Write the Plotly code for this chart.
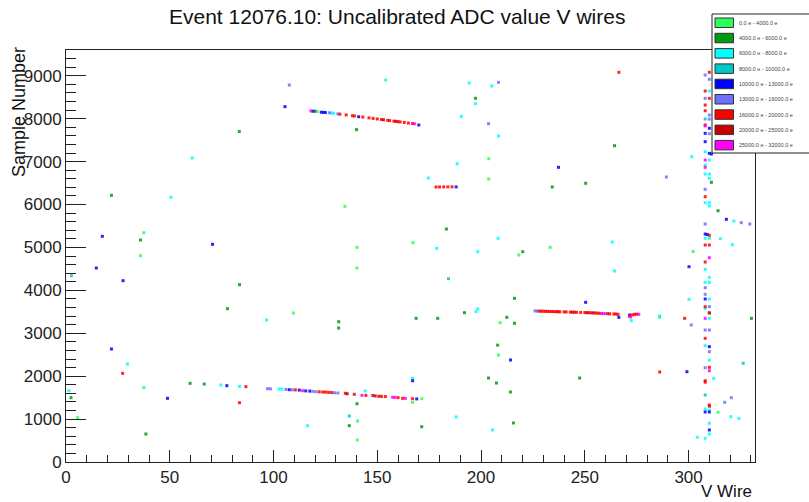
import plotly.graph_objects as go

TITLE = "Event 12076.10: Uncalibrated ADC value V wires"
X_TITLE = "V Wire"
Y_TITLE = "Sample Number"

BIN_LABELS = [
    "0.0 e - 4000.0 e",
    "4000.0 e - 6000.0 e",
    "6000.0 e - 8000.0 e",
    "8000.0 e - 10000.0 e",
    "10000.0 e - 13000.0 e",
    "13000.0 e - 16000.0 e",
    "16000.0 e - 20000.0 e",
    "20000.0 e - 25000.0 e",
    "25000.0 e - 32000.0 e",
]
BIN_COLORS = ["#2bff5a", "#009a10", "#00ffff", "#00c8c8", "#0000ff",
              "#6e6eff", "#ff0000", "#c80000", "#ff00ff"]

# hits per charge bin: (wire, sample)
hits_0_4000 = [(121, 8168), (37.5, 5343), (140.2, 5002), (167.2, 5110), (140.2, 4520),
               (109.6, 3472), (209.2, 3246), (218.2, 4823), (233.3, 5002), (203.7, 6594),
               (140.4, 513), (5.6, 1032), (37.5, 1732), (140.5, 955), (167, 1391),
               (171.5, 1475), (286, 3371), (302.2, 4905), (314.2, 1158), (208.4, 2493),
               (203.7, 7067), (134.4, 5958), (35.9, 4807)]
hits_4000_6000 = [(120, 8172), (83.5, 7700), (140, 7745), (21.9, 6214), (35.9, 5173),
                  (131.4, 3122), (131.4, 3269), (83.6, 4132), (77.8, 3572), (168.7, 3348),
                  (197.3, 8474), (264.3, 7370), (234.3, 6408), (250.4, 6494), (183.3, 5429),
                  (220.1, 4900), (216.1, 3814), (192, 3479), (179.1, 3348), (212.4, 3371),
                  (216.1, 3232), (330.3, 3348), (59.8, 1833), (66.6, 1817), (140.2, 1358),
                  (136.5, 846), (171.4, 822), (38.5, 652), (2.4, 1498), (311, 6517),
                  (314.2, 5855), (310, 3479), (208, 2723), (203.6, 1957), (207.4, 1840),
                  (214.2, 1631), (215.6, 909), (247.5, 1957)]
hits_6000_8000 = [(128, 8130), (129, 8125), (29.6, 2283), (74.6, 1794), (83.6, 1763),
                  (102.7, 1701), (104, 1698), (144.2, 1654), (167, 1950), (116.4, 846),
                  (1.4, 1661), (50.5, 6167), (60.8, 7083), (154, 8900), (194.3, 8831),
                  (205.2, 8761), (197.3, 8349), (190.5, 8055), (208.4, 7596), (188.5, 6950),
                  (301.5, 7114), (174.6, 6617), (208.2, 5212), (178.6, 4979), (198.4, 4900),
                  (263.2, 5126), (264.3, 4450), (198.4, 3565), (197.6, 3502), (300.2, 3791),
                  (96.6, 3309), (286, 3402), (312.1, 1950), (320.3, 1056), (324.2, 1018),
                  (304.2, 576), (188, 1048), (205.5, 746), (321.8, 5615), (315.3, 5203),
                  (321.1, 5063), (272.4, 3293),
                  (310, 8644), (308, 7230), (310, 7037), (308, 6920), (308, 6710),
                  (310, 6710), (310, 6610), (308, 6042), (310, 6042), (310, 5965),
                  (308, 5212), (310, 5212), (308, 4490), (310, 4303), (308, 4187),
                  (310, 4187), (310, 3798), (308, 3580), (310, 3348), (308, 2710),
                  (310, 2377), (308, 1235), (310, 1210), (310, 902), (310, 652), (308, 552)]
hits_8000_10000 = [(136.5, 1072), (184.3, 4271), (326.3, 2300), (2.6, 4341),
                   (308, 1561), (308, 7992)]
hits_10000_13000 = [(119, 8174), (123, 8150), (124, 8147), (125, 8143), (141, 8045),
                    (170, 7852), (105.5, 8280), (77.5, 1778), (107.6, 1685), (112.4, 1675),
                    (115.5, 1657), (117.5, 1652), (169, 1470), (167, 1894), (48.9, 1484),
                    (21.9, 2633), (17.5, 5259), (70.6, 5072), (14.6, 4520), (27.5, 4225),
                    (237.3, 6866), (188, 6410), (250.4, 3721), (266.4, 3371), (300.2, 4550),
                    (318.2, 5655), (299.2, 2104), (214.2, 2377), (271.6, 3425),
                    (310, 7775), (308, 7658), (308, 7463), (310, 7192), (311, 7176),
                    (308, 5312), (309, 5300), (308, 3798), (310, 2687), (308, 1165),
                    (310, 1165), (310, 746)]
hits_13000_16000 = [(127, 8137), (131, 8112), (97.1, 1708), (98.5, 1705), (106, 1690),
                    (109, 1682), (119, 1645), (120.4, 1638), (129.4, 1612), (131, 1608),
                    (208.4, 8846), (107.6, 8784), (203.6, 7883), (289.3, 6640),
                    (226, 3520), (227, 3518), (260, 3458), (301.3, 3192), (325.4, 5576),
                    (329.5, 5545), (320.6, 1498), (317.4, 1391),
                    (308, 9017), (310, 8917), (308, 8474), (310, 8085), (310, 7990),
                    (310, 7650), (308, 6353), (308, 5545), (308, 4062), (308, 3907),
                    (310, 3619), (308, 3076), (310, 3076), (310, 2570), (308, 2197)]
hits_16000_20000 = [(132, 8105), (135, 8087), (138, 8068), (139, 8062), (143, 8037),
                    (146, 8018), (148, 8006), (150, 7993), (152, 7980), (155, 7962),
                    (156, 7955), (158, 7943), (160, 7930), (161, 7924), (163, 7912),
                    (165, 7899), (167, 7887),
                    (27.3, 2066), (83.6, 1382), (86.7, 1755), (110.5, 1680), (122, 1635),
                    (123.7, 1631), (125, 1628), (126.5, 1622), (128, 1618), (134.6, 1601),
                    (138.9, 1577), (144.5, 1552), (147.8, 1550), (150.7, 1531), (152, 1528),
                    (153.9, 1525), (160, 1500), (162.2, 1484), (167, 1475),
                    (266.4, 9080), (178.3, 6408), (180, 6408), (182, 6410), (184, 6410),
                    (186, 6412),
                    (228, 3515), (229, 3514), (230, 3512), (231, 3511), (232, 3510),
                    (233, 3508), (234, 3507), (235, 3505), (236, 3503), (238, 3500),
                    (240, 3498), (241, 3496), (243, 3493), (245, 3490), (246, 3488),
                    (248, 3485), (250, 3481), (252, 3478), (253, 3476), (255, 3472),
                    (256, 3470), (257, 3465), (261, 3455), (262, 3453), (264, 3450),
                    (265, 3448), (266, 3440), (271.5, 3400), (273, 3430), (274, 3440),
                    (275, 3445), (298.1, 3348), (286.1, 2097),
                    (308, 8644), (310, 8474), (308, 8318), (308, 8185), (308, 7852),
                    (308, 6182), (310, 5282), (308, 5056), (310, 5056), (308, 4660),
                    (308, 3619), (310, 3470), (308, 2882), (310, 2206), (308, 1894),
                    (308, 1860), (310, 1328), (310, 1300), (310, 9080)]
hits_20000_25000 = [(153, 7974), (159, 7937), (135.5, 1590), (149, 1540), (237, 3502),
                    (244, 3491), (251, 3480), (254, 3474)]
hits_25000_32000 = [(118, 8180), (168, 7880), (114, 1661), (142.6, 1554), (157.4, 1507),
                    (158.5, 1505), (163.5, 1482), (258, 3460), (259, 3458), (272, 3380),
                    (276, 3440), (308, 7830), (308, 7037), (308, 6866), (310, 4760),
                    (308, 3348), (310, 2127)]

ALL_BINS = [hits_0_4000, hits_4000_6000, hits_6000_8000, hits_8000_10000,
            hits_10000_13000, hits_13000_16000, hits_16000_20000,
            hits_20000_25000, hits_25000_32000]

X_RANGE = [0, 332]
Y_RANGE = [0, 9600]

# plot area in pixels (809 x 502 canvas)
W, H = 809, 502
L, R, T, B = 66, 755, 50, 462


def px(x):
    return (x - L) / (R - L)


def py(y):
    return (B - y) / (B - T)


fig = go.Figure()
for hits, color, label in zip(ALL_BINS, BIN_COLORS, BIN_LABELS):
    fig.add_trace(go.Scatter(
        x=[h[0] for h in hits], y=[h[1] for h in hits], mode="markers",
        name=label, showlegend=False,
        marker=dict(symbol="square", size=3, color=color, opacity=0.85,
                    line=dict(width=0)),
    ))

FONT = "Liberation Sans, Arial, Helvetica, sans-serif"
axis_common = dict(showgrid=False, zeroline=False, showline=True, mirror=True,
                   linecolor="#222222", linewidth=1, ticks="inside",
                   tickcolor="#222222", tickwidth=1,
                   tickfont=dict(family=FONT, size=17, color="#222222"))
fig.update_xaxes(range=X_RANGE, tick0=0, dtick=50, ticklen=12,
                 minor=dict(ticks="inside", dtick=10, ticklen=7, tickcolor="#222222"),
                 **axis_common)
fig.update_yaxes(range=Y_RANGE, tick0=0, dtick=1000, ticklen=20,
                 minor=dict(ticks="inside", dtick=200, ticklen=10, tickcolor="#222222"),
                 **axis_common)

shapes = []
annotations = [
    dict(text=TITLE, x=px(397), y=py(17), xref="paper", yref="paper",
         showarrow=False, font=dict(family=FONT, size=21, color="#111111"),
         xanchor="center", yanchor="middle"),
    dict(text=X_TITLE, x=px(754), y=py(491), xref="paper", yref="paper",
         showarrow=False, font=dict(family=FONT, size=17, color="#111111"),
         xanchor="right", yanchor="middle"),
    dict(text=Y_TITLE, x=px(19), y=py(45), xref="paper", yref="paper",
         showarrow=False, textangle=-90, font=dict(family=FONT, size=18, color="#111111"),
         xanchor="center", yanchor="top"),
]

# legend box (ROOT style)
shapes.append(dict(type="rect", xref="paper", yref="paper",
                   x0=px(712), x1=px(812), y0=py(153), y1=py(14),
                   fillcolor="white", line=dict(color="#222222", width=1), layer="above"))
for i, (color, label) in enumerate(zip(BIN_COLORS, BIN_LABELS)):
    top = 18 + i * 15.3
    shapes.append(dict(type="rect", xref="paper", yref="paper",
                       x0=px(715), x1=px(733.5), y0=py(top + 9.5), y1=py(top),
                       fillcolor=color, line=dict(color="#333333", width=1), layer="above"))
    annotations.append(dict(text=label, x=px(737), y=py(top + 4.8), xref="paper",
                            yref="paper", showarrow=False, xanchor="left",
                            yanchor="middle",
                            font=dict(family=FONT, size=5.5, color="#444444")))

fig.update_layout(
    width=W, height=H, autosize=False,
    margin=dict(l=L, r=W - R, t=T, b=H - B, pad=0),
    paper_bgcolor="white", plot_bgcolor="white",
    shapes=shapes, annotations=annotations, showlegend=False,
)

fig.write_html("out.html")
